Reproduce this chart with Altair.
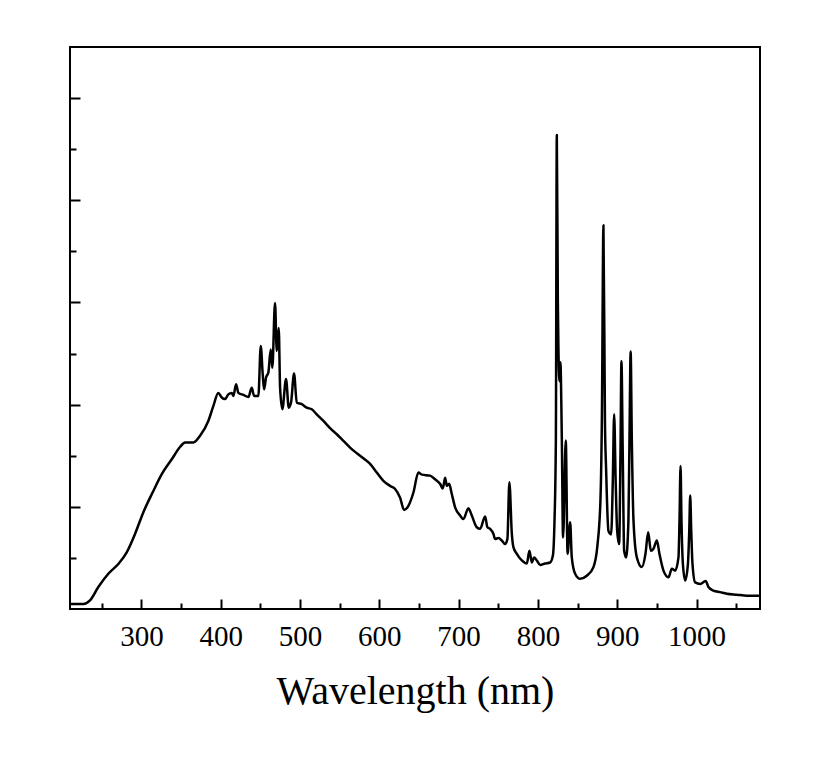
import altair as alt
import pandas as pd

# Wavelength (nm) and relative intensity
wavelength = [210, 226.8, 235.2, 245.7, 258.3, 270.9, 281.5, 292.0, 302.4, 315.1,
              325.7, 338.3, 348.7, 355.0, 365.5, 374.0, 384.4, 390.7, 397.0, 401.3,
              405.5, 409.6, 413.9, 416.0, 419.4, 422.3, 428.6, 434.9, 439.2, 442.1,
              447.5, 450.5, 453.0, 454.7, 457.2, 460.1, 463.1, 465.1, 468.5, 470.7,
              473.2, 474.9, 477.7, 482.4, 485.8, 488.7, 492.5, 495.9, 502.2, 508.5,
              514.8, 521.1, 529.5, 537.9, 546.4, 554.7, 563.1, 571.6, 579.9, 588.4,
              596.8, 605.1, 613.6, 619.9, 626.2, 631.2, 636.7, 643.0, 649.3, 653.6,
              664.0, 670.3, 676.6, 680.0, 683.0, 685.1, 688.0, 691.4, 695.6, 701.9,
              706.0, 712.3, 716.6, 722.9, 727.1, 733.4, 736.3, 739.7, 743.9, 746.0,
              750.2, 754.5, 758.6, 761.5, 764.0, 767.1, 769.1, 773.4, 779.7, 786.0,
              789.3, 792.3, 795.2, 798.6, 802.8, 809.1, 815.4, 818.8, 820.8, 822.6,
              823.8, 825.1, 825.8, 827.1, 828.3, 830.1, 831.7, 835.1, 837.4, 840.6,
              842.7, 846.9, 853.2, 861.6, 870.0, 875.0, 878.8, 880.6, 882.6, 884.5,
              886.0, 888.9, 892.3, 894.4, 896.1, 898.0, 899.9, 902.4, 904.1, 905.3,
              906.9, 908.7, 911.2, 914.1, 915.4, 916.9, 918.4, 920.5, 924.7, 931.0,
              935.6, 939.0, 942.4, 945.7, 950.0, 953.2, 958.3, 964.6, 968.9, 973.0,
              977.2, 978.5, 979.8, 981.0, 982.8, 985.7, 989.1, 990.8, 992.0, 993.3,
              994.9, 998.3, 1004.6, 1011.5, 1015.0, 1021.3, 1029.8, 1038.2, 1050.8, 1063.5,
              1080.2]
intensity = [0.10, 0.10, 0.17, 0.43, 0.69, 0.88, 1.11, 1.47, 1.89, 2.31,
             2.64, 2.93, 3.17, 3.26, 3.26, 3.39, 3.68, 3.97, 4.23, 4.14,
             4.11, 4.20, 4.23, 4.17, 4.40, 4.23, 4.19, 4.15, 4.33, 4.17,
             4.17, 5.15, 4.59, 4.30, 4.53, 4.63, 5.08, 4.72, 5.99, 5.05,
             5.50, 4.33, 3.91, 4.50, 3.94, 4.04, 4.61, 4.04, 4.01, 3.94,
             3.91, 3.81, 3.68, 3.54, 3.42, 3.29, 3.16, 3.05, 2.95, 2.84,
             2.67, 2.51, 2.41, 2.35, 2.18, 1.94, 2.02, 2.28, 2.67, 2.63,
             2.61, 2.54, 2.45, 2.36, 2.57, 2.41, 2.45, 2.25, 1.99, 1.83,
             1.76, 1.97, 1.83, 1.60, 1.57, 1.81, 1.60, 1.57, 1.47, 1.37,
             1.39, 1.34, 1.27, 1.37, 2.48, 1.47, 1.21, 1.08, 0.95, 0.89,
             1.14, 0.91, 1.01, 0.95, 0.86, 0.89, 0.91, 1.04, 1.67, 3.29,
             9.28, 6.03, 5.15, 4.46, 4.83, 3.36, 1.40, 3.30, 1.08, 1.70,
             1.01, 0.69, 0.59, 0.65, 0.82, 1.24, 2.12, 3.68, 7.51, 3.68,
             2.71, 1.53, 1.46, 2.51, 3.81, 2.51, 1.53, 1.27, 3.10, 4.85,
             3.10, 1.14, 1.01, 1.73, 3.29, 5.04, 3.29, 1.73, 1.01, 0.82,
             1.08, 1.50, 1.14, 1.18, 1.34, 1.08, 0.75, 0.62, 0.79, 0.75,
             1.01, 1.73, 2.80, 1.73, 0.88, 0.56, 0.88, 1.53, 2.22, 1.53,
             0.88, 0.52, 0.49, 0.55, 0.43, 0.36, 0.33, 0.30, 0.28, 0.26,
             0.26]

x_major = [300, 400, 500, 600, 700, 800, 900, 1000]
x_minor = [250, 350, 450, 550, 650, 750, 850, 950, 1050]
y_major = [2, 4, 6, 8, 10]
y_minor = [1, 3, 5, 7, 9]

df = pd.DataFrame({"wl": wavelength, "I": intensity})

FONT = "Liberation Serif"
xscale = alt.Scale(domain=[210, 1080], nice=False, zero=False)
yscale = alt.Scale(domain=[0, 11], nice=False, zero=False)

main = alt.Chart(df).mark_line(color="black", strokeWidth=2.5, clip=True,
                               interpolate="monotone", strokeJoin="round").encode(
    x=alt.X("wl:Q", scale=xscale,
            axis=alt.Axis(orient="bottom", values=x_major, tickSize=10, offset=-10,
                          domain=False, grid=False, tickColor="black", tickWidth=2,
                          labelFont=FONT, labelFontSize=29, labelColor="black",
                          labelPadding=13, format="d",
                          title="Wavelength (nm)", titleFont=FONT, titleFontSize=40,
                          titleFontWeight="normal", titleColor="black", titlePadding=20)),
    y=alt.Y("I:Q", scale=yscale,
            axis=alt.Axis(orient="left", values=y_major, tickSize=10, offset=-10,
                          domain=False, grid=False, tickColor="black", tickWidth=2,
                          labels=False, title=None)),
)

minor = alt.Chart(df).mark_line(strokeOpacity=0).encode(
    x=alt.X("wl:Q", scale=xscale,
            axis=alt.Axis(orient="bottom", values=x_minor, tickSize=6, offset=-6,
                          domain=False, grid=False, tickColor="black", tickWidth=2,
                          labels=False, title=None)),
    y=alt.Y("I:Q", scale=yscale,
            axis=alt.Axis(orient="left", values=y_minor, tickSize=6, offset=-6,
                          domain=False, grid=False, tickColor="black", tickWidth=2,
                          labels=False, title=None)),
)

chart = alt.layer(minor, main).resolve_axis(x="independent", y="independent").properties(
    width=690, height=562,
    padding={"left": 62, "top": 39, "right": 50, "bottom": 150},
    autosize=alt.AutoSizeParams(type="none"),
    background="white",
).configure_view(stroke="black", strokeWidth=2)

chart.save("out.html", embed_options={"renderer": "svg", "actions": False})
